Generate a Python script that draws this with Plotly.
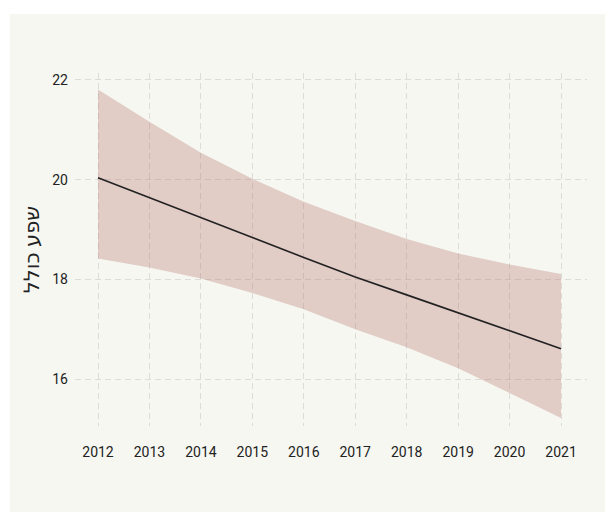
import plotly.graph_objects as go

years = [2012, 2013, 2014, 2015, 2016, 2017, 2018, 2019, 2020, 2021]
fit = [20.04, 19.645, 19.24, 18.84, 18.44, 18.05, 17.69, 17.33, 16.96, 16.61]
upper = [21.81, 21.16, 20.54, 20.02, 19.56, 19.17, 18.81, 18.52, 18.30, 18.11]
lower = [18.42, 18.24, 18.02, 17.73, 17.40, 17.00, 16.64, 16.22, 15.72, 15.22]
y_ticks = [16, 18, 20, 22]
y_title = "שפע כולל"

cream = "#f6f7f1"
grid = "#dcdcd8"
band = "rgba(189,127,121,0.36)"
ink = "#222222"

fig = go.Figure()
fig.add_trace(go.Scatter(x=years, y=lower, mode="lines", line=dict(width=0),
                         hoverinfo="skip", showlegend=False))
fig.add_trace(go.Scatter(x=years, y=upper, mode="lines", line=dict(width=0),
                         fill="tonexty", fillcolor=band, hoverinfo="skip", showlegend=False))
fig.add_trace(go.Scatter(x=years, y=fit, mode="lines", line=dict(color=ink, width=1.6),
                         showlegend=False))

fig.add_shape(type="rect", xref="paper", yref="paper",
              x0=-0.127, x1=1.2, y0=-0.4, y1=1.167,
              fillcolor=cream, line=dict(width=0), layer="below")

fig.update_layout(
    width=605, height=512,
    margin=dict(l=75, r=18, t=73, b=86, autoexpand=False),
    paper_bgcolor="white", plot_bgcolor=cream,
    font=dict(family="Roboto, Noto Sans, sans-serif", size=14, color=ink),
)
fig.update_xaxes(range=[2011.553, 2021.505], tickvals=years, ticktext=[str(y) for y in years],
                 showgrid=True, gridcolor=grid, griddash="6px,4px", gridwidth=1,
                 zeroline=False, showline=False, ticks="", ticklabelstandoff=16)
fig.update_yaxes(range=[15.06, 22.14], tickvals=y_ticks,
                 showgrid=True, gridcolor=grid, griddash="6px,4px", gridwidth=1,
                 zeroline=False, showline=False, ticks="", ticklabelstandoff=6,
                 title=dict(text=y_title, font=dict(family="Noto Sans, DejaVu Sans, sans-serif", size=21, color=ink),
                            standoff=6))

fig.write_html("out.html")
